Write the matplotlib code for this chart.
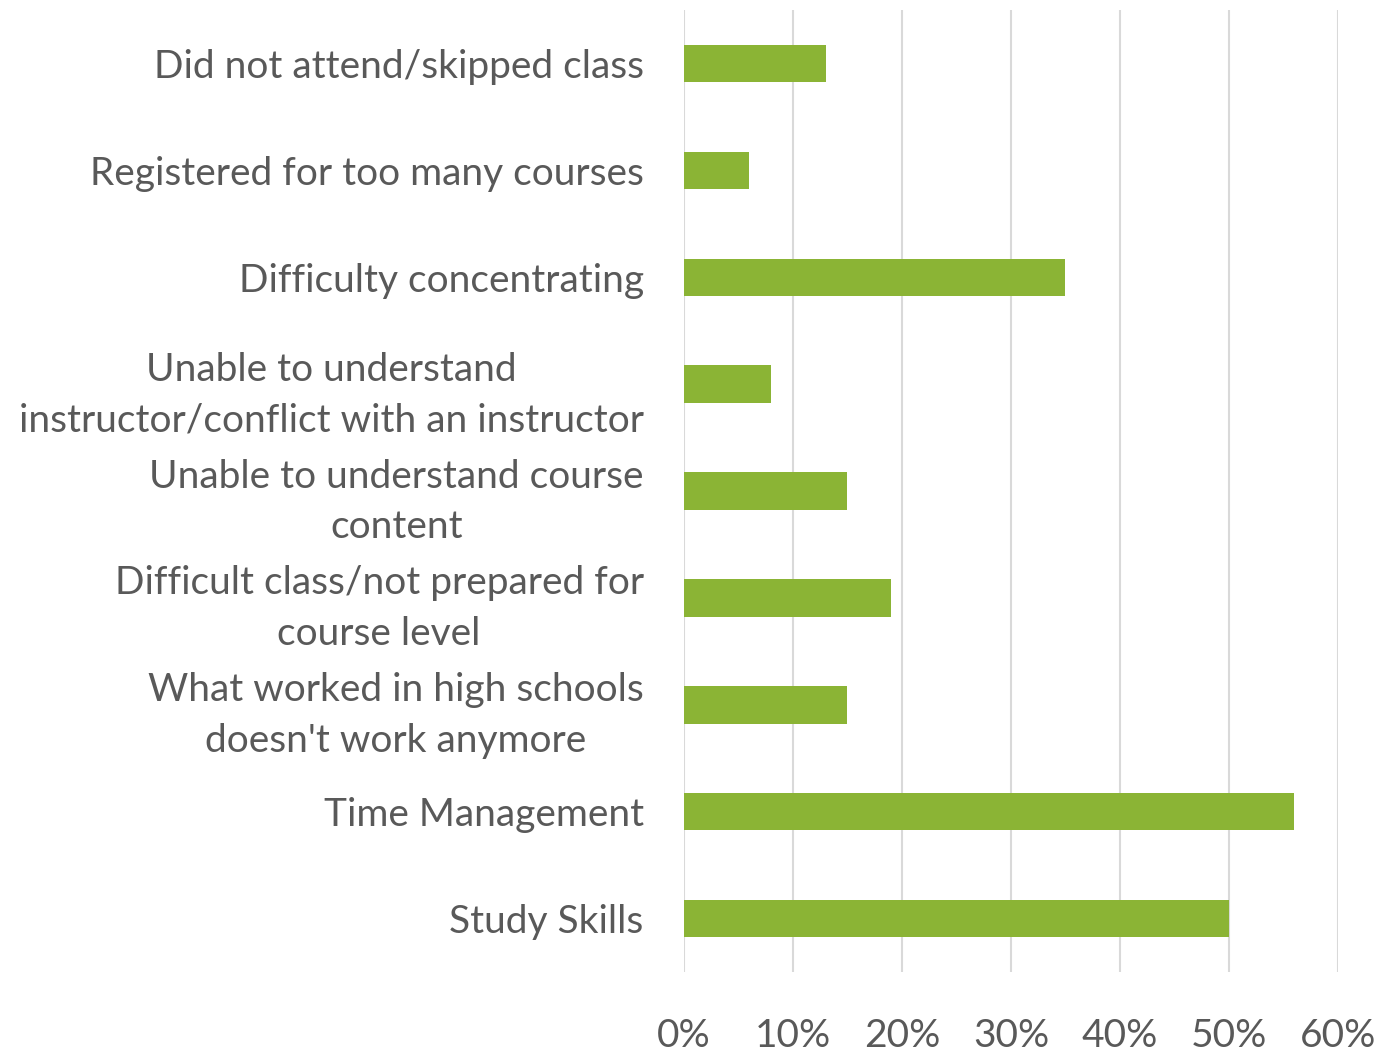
import matplotlib
matplotlib.use('Agg')
import matplotlib.pyplot as plt
from matplotlib.ticker import FuncFormatter

plt.rcParams['font.family'] = ['Lato', 'DejaVu Sans']

categories = [
    "Did not attend/skipped class",
    "Registered for too many courses",
    "Difficulty concentrating",
    "Unable to understand\ninstructor/conflict with an instructor",
    "Unable to understand course\ncontent",
    "Difficult class/not prepared for\ncourse level",
    "What worked in high schools\ndoesn't work anymore",
    "Time Management",
    "Study Skills",
]
values = [0.13, 0.06, 0.35, 0.08, 0.15, 0.19, 0.15, 0.56, 0.50]
xticks = [0, 0.1, 0.2, 0.3, 0.4, 0.5, 0.6]

text_color = '#595959'
bar_color = '#8BB435'
grid_color = '#D9D9D9'

fig = plt.figure(figsize=(13.91, 10.62), dpi=100)
ax = fig.add_axes([0.4917, 0.0847, 0.4702, 0.9058])

ypos = list(range(len(categories)))
ax.barh(ypos, values, height=0.35, color=bar_color, zorder=3)

ax.set_xlim(0, 0.6)
ax.set_ylim(len(categories) - 0.5, -0.5)
ax.set_xticks(xticks)
ax.xaxis.set_major_formatter(FuncFormatter(lambda v, _: f"{v*100:.0f}%"))
ax.set_yticks(ypos)
ax.set_yticklabels(categories, multialignment='center', linespacing=1.5)

ax.grid(axis='x', color=grid_color, lw=1.5, zorder=0)
ax.tick_params(axis='both', length=0, labelsize=28, colors=text_color)
ax.tick_params(axis='x', pad=33)
ax.tick_params(axis='y', pad=29)
for s in ax.spines.values():
    s.set_visible(False)

fig.savefig('out.png', dpi=100)
